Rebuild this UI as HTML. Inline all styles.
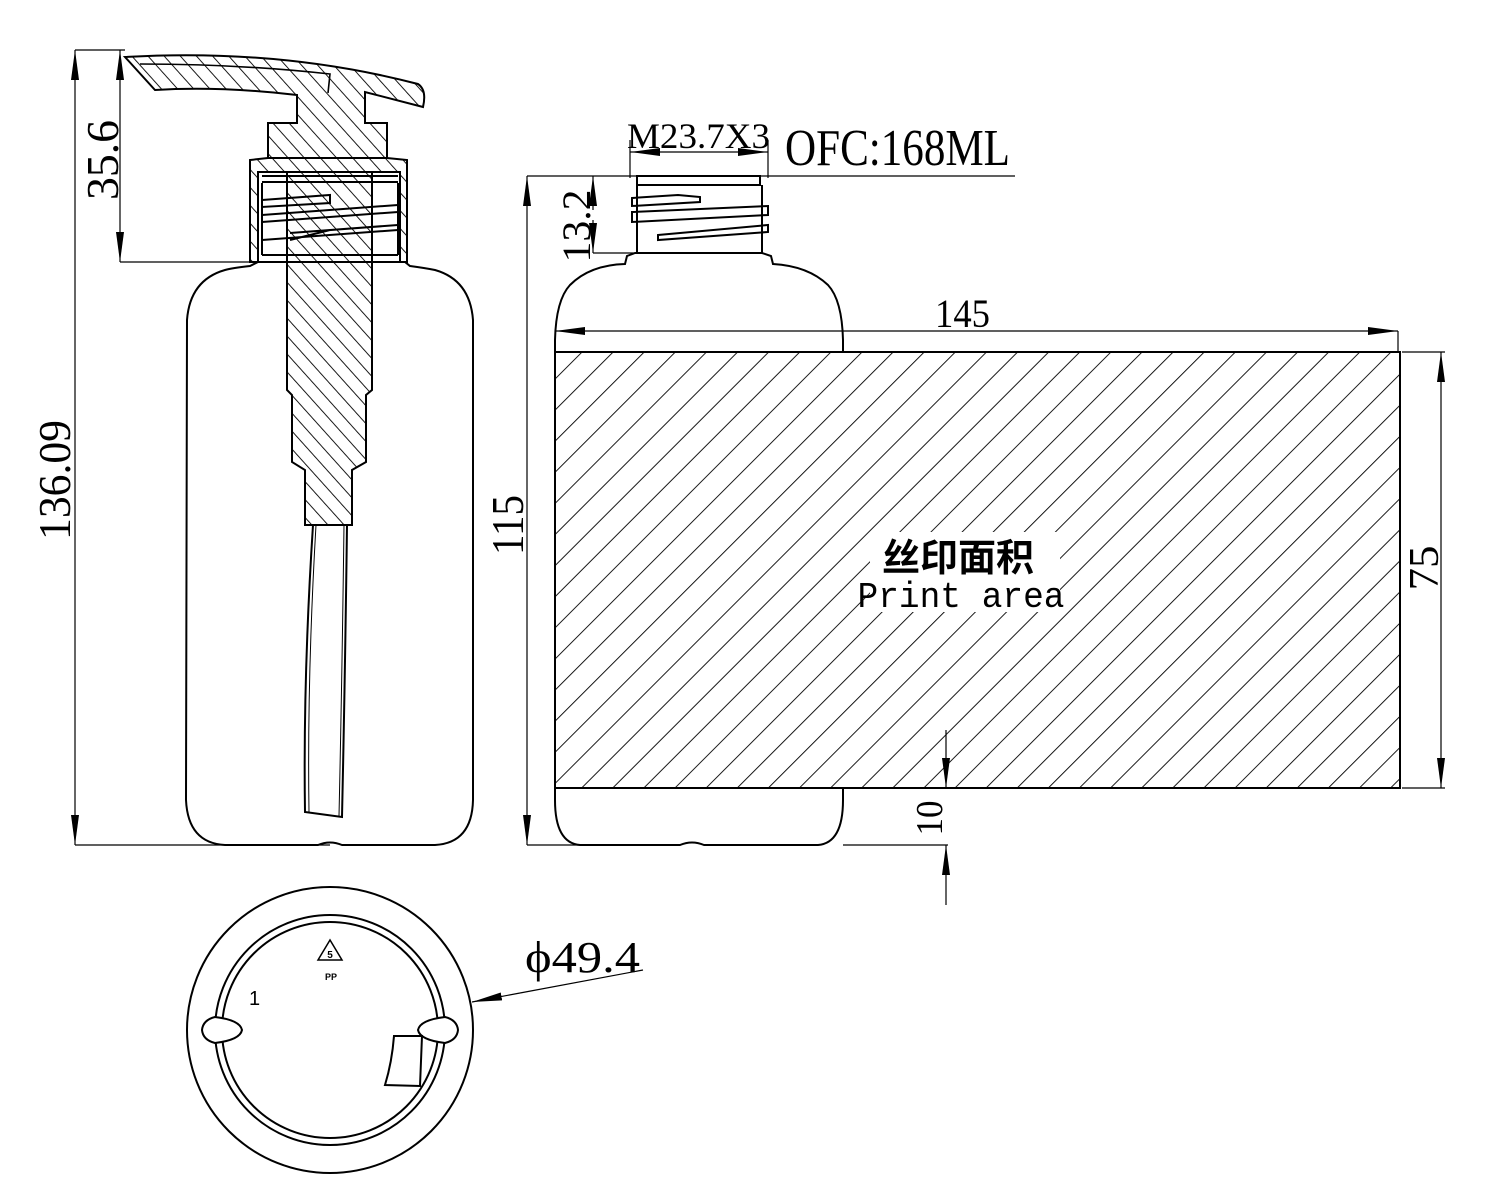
<!DOCTYPE html>
<html><head><meta charset="utf-8"><style>
html,body{margin:0;padding:0;background:#fff}
svg{display:block}
.t{font-family:"Liberation Serif",serif;fill:#000}
</style></head><body>
<svg width="1500" height="1203" viewBox="0 0 1500 1203" xmlns="http://www.w3.org/2000/svg">
<defs>
<pattern id="hp" width="12" height="12" patternUnits="userSpaceOnUse" patternTransform="rotate(-42)"><line x1="0" y1="0" x2="0" y2="12" stroke="#000" stroke-width="1.8"/></pattern>
<pattern id="pa" width="22" height="22" patternUnits="userSpaceOnUse" patternTransform="rotate(45)"><line x1="0" y1="0" x2="0" y2="22" stroke="#000" stroke-width="1.8"/></pattern>
<marker id="ar" markerWidth="30" markerHeight="10" refX="30" refY="5" orient="auto" markerUnits="userSpaceOnUse"><path d="M0,1 L30,5 L0,9 Z" fill="#000"/></marker>
</defs>
<g fill="none" stroke="#000" stroke-width="2">
<path d="M258,262 L250,266 Q232,268 225,270 Q190,280 187,320 L186,800 Q188,843 225,845 L318,845 Q330,840 342,845 L435,845 Q472,843 473,800 L473,320 Q470,280 435,270 Q425,268 410,266 L405,262"/>
<path d="M250,262 L250,160 L268,158 L387,158 L407,160 L407,262 Z" fill="url(#hp)"/>
<rect x="258" y="172" width="142" height="90" fill="#fff"/>
<path d="M262,176 H398 M262,182 H398 M262,183 V255 M398,183 V255 M262,255 H398"/>
<path d="M262,200 L330,195 L330,203 L262,207 Z M262,215 L398,205 M262,222 L398,212 M262,240 L398,230 M290,233 L398,225 M290,240 L330,230"/>
<path d="M125,57 Q280,48 418,84 Q427,90 423,107 L365,92 L365,123 L387,123 L387,158 L268,158 L268,123 L297,123 L297,95 Q220,86 155,90 Z" fill="url(#hp)"/>
<path d="M140,64 Q240,64 330,74 L328,93" stroke-width="1.6"/>
<path d="M287,172 L287,390 L292,395 L292,462 L305,470 L305,525 L352,525 L352,470 L366,462 L366,395 L372,390 L372,172 Z" fill="url(#hp)"/>
<path d="M313,525 Q303,680 305,812 L342,817 Q345,680 347,525"/>
<path d="M316,525 Q307,680 309,812 M344,525 Q342,680 339,816" stroke-width="1"/>
<g stroke-width="1.2">
<line x1="75" y1="50" x2="125" y2="50"/><line x1="75" y1="845" x2="330" y2="845"/>
<line x1="75" y1="90" x2="75" y2="50" marker-end="url(#ar)"/><line x1="75" y1="800" x2="75" y2="845" marker-end="url(#ar)"/>
<line x1="75" y1="90" x2="75" y2="800"/>
<line x1="120" y1="262" x2="258" y2="262"/>
<line x1="120" y1="90" x2="120" y2="50" marker-end="url(#ar)"/><line x1="120" y1="220" x2="120" y2="262" marker-end="url(#ar)"/>
<line x1="120" y1="90" x2="120" y2="220"/>
</g>
<path d="M637,176 H760 V185 H637 Z"/>
<path d="M637,185 V253 M762,185 V253"/>
<path d="M632,198 L678,195 L700,197 L700,202 L632,206 Z M632,212 L768,206 L768,215 L632,222 Z M658,235 L768,225 L768,232 L658,240 Z"/>
<path d="M635,253 L627,256 L625,264 Q590,265 570,285 Q556,300 555,340 L555,800 Q555,843 580,845 L680,845 Q692,840 704,845 L818,845 Q843,843 843,800 L843,340 Q842,300 828,285 Q808,266 773,264 L771,256 L762,253 Z"/>
<rect x="555" y="352" width="845" height="436" fill="#fff"/>
<rect x="555" y="352" width="845" height="436" fill="url(#pa)"/>
<rect x="870" y="532" width="190" height="80" fill="#fff" stroke="none"/>
<g stroke-width="1.2">
<line x1="527" y1="176" x2="1015" y2="176"/>
<line x1="527" y1="220" x2="527" y2="176" marker-end="url(#ar)"/><line x1="527" y1="800" x2="527" y2="845" marker-end="url(#ar)"/>
<line x1="527" y1="220" x2="527" y2="800"/><line x1="527" y1="845" x2="580" y2="845"/>
<line x1="593" y1="253" x2="635" y2="253"/>
<line x1="593" y1="210" x2="593" y2="176" marker-end="url(#ar)"/><line x1="593" y1="220" x2="593" y2="253" marker-end="url(#ar)"/>
<line x1="630" y1="140" x2="630" y2="178"/><line x1="768" y1="140" x2="768" y2="178"/>
<line x1="670" y1="152" x2="630" y2="152" marker-end="url(#ar)"/><line x1="728" y1="152" x2="768" y2="152" marker-end="url(#ar)"/><line x1="670" y1="152" x2="728" y2="152"/>
<line x1="1398" y1="331" x2="1398" y2="352"/>
<line x1="600" y1="331" x2="555" y2="331" marker-end="url(#ar)"/><line x1="1350" y1="331" x2="1398" y2="331" marker-end="url(#ar)"/><line x1="600" y1="331" x2="1350" y2="331"/>
<line x1="1402" y1="352" x2="1445" y2="352"/><line x1="1402" y1="788" x2="1445" y2="788"/>
<line x1="1441" y1="400" x2="1441" y2="352" marker-end="url(#ar)"/><line x1="1441" y1="740" x2="1441" y2="788" marker-end="url(#ar)"/><line x1="1441" y1="400" x2="1441" y2="740"/>
<line x1="843" y1="845" x2="948" y2="845"/>
<line x1="946" y1="730" x2="946" y2="788" marker-end="url(#ar)"/>
<line x1="946" y1="905" x2="946" y2="845" marker-end="url(#ar)"/>
</g>
<circle cx="330" cy="1030" r="143"/>
<circle cx="330" cy="1030" r="115"/>
<circle cx="330" cy="1030" r="108"/>
<path d="M215,1017 Q240,1020 242,1030 Q240,1040 215,1043 Q203,1040 202,1030 Q203,1020 215,1017 Z" fill="#fff"/>
<path d="M445,1017 Q420,1020 418,1030 Q420,1040 445,1043 Q457,1040 458,1030 Q457,1020 445,1017 Z" fill="#fff"/>
<path d="M394,1036 L422,1036 L420,1086 L385,1085 Q392,1062 394,1036 Z" fill="#fff"/>
<path d="M330,940 L318,960 L342,960 Z" stroke-width="1.5"/>
<g stroke-width="1.2"><line x1="643" y1="970" x2="520" y2="993"/><line x1="520" y1="993" x2="472" y2="1002" marker-end="url(#ar)"/></g>
</g>
<text class="t" font-size="46" transform="translate(70,480) rotate(-90)" text-anchor="middle" textLength="120" lengthAdjust="spacingAndGlyphs">136.09</text>
<text class="t" font-size="46" transform="translate(118,160) rotate(-90)" text-anchor="middle" textLength="80" lengthAdjust="spacingAndGlyphs">35.6</text>
<text class="t" font-size="46" transform="translate(523,525) rotate(-90)" text-anchor="middle" textLength="60" lengthAdjust="spacingAndGlyphs">115</text>
<text class="t" font-size="40" transform="translate(590,226) rotate(-90)" text-anchor="middle" textLength="73" lengthAdjust="spacingAndGlyphs">13.2</text>
<text class="t" font-size="36" x="627" y="148" textLength="143" lengthAdjust="spacingAndGlyphs">M23.7X3</text>
<text class="t" font-size="52" x="785" y="165" textLength="225" lengthAdjust="spacingAndGlyphs">OFC:168ML</text>
<text class="t" font-size="40" x="935" y="327" textLength="55" lengthAdjust="spacingAndGlyphs">145</text>
<text class="t" font-size="42" transform="translate(1438,568) rotate(-90)" text-anchor="middle" textLength="45" lengthAdjust="spacingAndGlyphs">75</text>
<text class="t" font-size="38" transform="translate(942,818) rotate(-90)" text-anchor="middle" textLength="35" lengthAdjust="spacingAndGlyphs">10</text>
<text font-family="Liberation Sans,'Noto Sans CJK SC',sans-serif" font-size="38" x="958" y="571" text-anchor="middle" font-weight="bold">丝印面积</text>
<text font-family="Liberation Mono,monospace" font-size="36" x="961" y="607" text-anchor="middle" textLength="207" lengthAdjust="spacingAndGlyphs">Print area</text>
<text class="t" font-size="44" x="525" y="972" textLength="115" lengthAdjust="spacingAndGlyphs">ϕ49.4</text>
<text font-family="Liberation Sans,sans-serif" font-size="20" x="249" y="1005">1</text>
<text font-family="Liberation Sans,sans-serif" font-size="10" font-weight="bold" x="330" y="958" text-anchor="middle">5</text>
<text font-family="Liberation Sans,sans-serif" font-size="9" font-weight="bold" x="331" y="980" text-anchor="middle">PP</text>
</svg>
</body></html>
